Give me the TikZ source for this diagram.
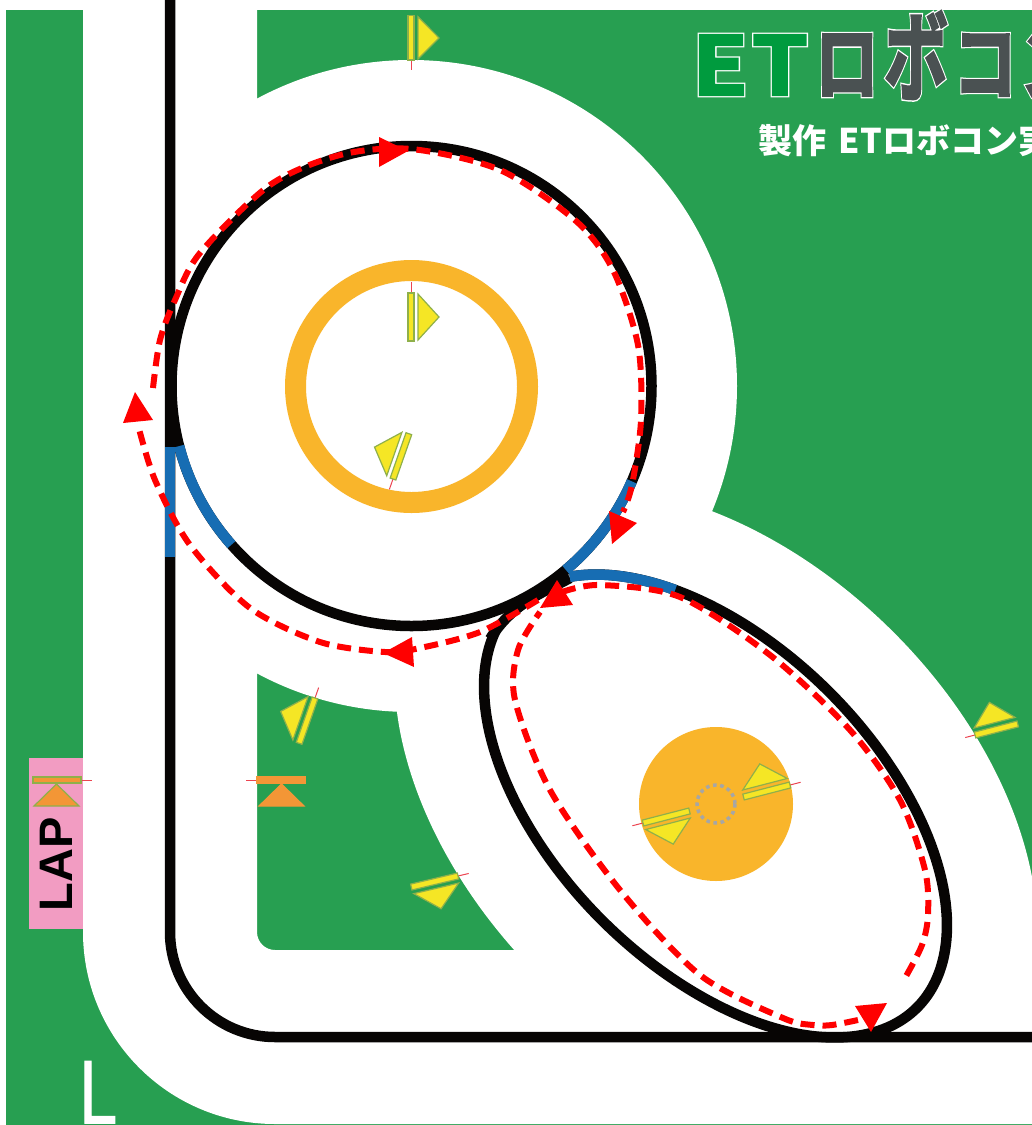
\documentclass[tikz,border=0pt]{standalone}
\usepackage{fontspec}
\usepackage{graphicx}
\usetikzlibrary{positioning}
\setmainfont{Liberation Sans}
\newfontfamily\cjk{Noto Sans CJK JP}
\newfontfamily\cjkfat[FakeBold=3]{Noto Sans CJK JP Bold}
\newfontfamily\cjkrim[FakeBold=6]{Noto Sans CJK JP Bold}
\newfontfamily\sidefont[FakeBold=1.5]{Liberation Sans}
\definecolor{FieldGreen}{HTML}{279F51}
\definecolor{LineBlack}{HTML}{070504}
\definecolor{LineBlue}{HTML}{176DB3}
\definecolor{ZoneOrange}{HTML}{F9B52B}
\definecolor{LapPink}{HTML}{F29CC2}
\definecolor{GateYellow}{HTML}{F5E625}
\definecolor{GateEdge}{HTML}{8FB04A}
\definecolor{GateOrange}{HTML}{F39636}
\definecolor{TickRed}{HTML}{EC4450}
\definecolor{LogoGreen}{HTML}{009B3E}
\definecolor{LogoGray}{HTML}{4A5152}
\tikzset{
  track/.style={line width=10.5pt,color=LineBlack},
  trackb/.style={line width=10.5pt,color=LineBlue},
  routeline/.style={line width=6pt,color=red,dash pattern=on 14pt off 8pt},
  routehead/.style={fill=red},
  gatepart/.style={fill=GateYellow,draw=GateEdge,line width=1.2pt,line join=miter},
  tick/.style={color=TickRed,line width=1pt},
  logochar/.style={inner sep=0pt,outer sep=0pt},
}
% gate: x, y, rotation, side
\newcommand{\gatemark}[4]{
  \begin{scope}[shift={(#1,#2)},rotate=#3,yscale=#4]
    \draw[tick] (0,0) -- (0,-11);
    \draw[gatepart] (-3,0) rectangle (3,48);
    \draw[gatepart] (7,1) -- (7,47) -- (28,24) -- cycle;
  \end{scope}
}
% lap gate: x, direction, edge colour
\newcommand{\lapgate}[3]{
  \begin{scope}[shift={(#1,780)},xscale=#2]
    \draw[tick] (0,0) -- (-11,0);
    \draw[fill=GateOrange,draw=#3,line width=1.2pt] (0,-3) rectangle (48,3);
    \draw[fill=GateOrange,draw=#3,line width=1.2pt] (2,26) -- (47,26) -- (24.5,4) -- cycle;
  \end{scope}
}
% logo letter: name, centre x, centre y, width, height, colour, letter
\newcommand{\logoletter}[7]{
  \node[logochar,text=white] (#1rim) at (#2,#3) {\resizebox{#4pt}{#5pt}{\cjkrim #7}};
  \node[logochar,text=#6] (#1) at (#2,#3) {\resizebox{#4pt}{#5pt}{\cjkfat #7}};
}
\begin{document}
\begin{tikzpicture}[x=1pt,y=1pt,yscale=-1]
  \clip (0,0) rectangle (1032,1125);
  \fill[white] (0,0) rectangle (1032,1125);
  \fill[FieldGreen] (6,10) rectangle (1032,1125);

  % White running area
  \fill[white] (83,0) -- (257,0) -- (257,932) arc (180:90:18) -- (1040,950) -- (1040,1124)
    -- (275,1124) arc (90:180:192) -- cycle;
  \fill[white] (411,386) circle[radius=326];
  \fill[white,rotate around={44.3:(716,804)}] (716,804) ellipse[x radius=379,y radius=247];

  % Start marks and logo
  \fill[LapPink] (29,758) rectangle (83,929);
  \node[font=\bfseries,rotate=90] (laptext) at (56,864) {\fontsize{47}{47}\selectfont LAP};
  \node[text=white,inner sep=0pt,anchor=south west] (sideL) at (79,1123.5) {\resizebox{38pt}{62pt}{\sidefont L}};

  \logoletter{logoE}{720}{65}{56}{60}{LogoGreen}{E}
  \logoletter{logoT}{780}{65}{56}{60}{LogoGreen}{T}
  \logoletter{logoRo}{847}{65}{64}{60}{LogoGray}{ロ}
  \logoletter{logoBo}{916}{55}{64}{82}{LogoGray}{ボ}
  \logoletter{logoKo}{985}{65}{64}{60}{LogoGray}{コ}
  \logoletter{logoN}{1052}{65}{66}{60}{LogoGray}{ン}
  \node[text=white,anchor=west,inner sep=0pt] (credit) at (758,141)
    {\fontsize{34}{34}\selectfont\cjk\bfseries 製作\hspace{5pt} ETロボコン実};

  % Orange zones
  \draw[ZoneOrange,line width=21pt] (411.5,386.5) circle[radius=116];
  \fill[ZoneOrange] (716,804) circle[radius=77];
  \draw[color=black!35,line width=3.5pt,dash pattern=on 3.6pt off 3.6pt] (716,804) circle[radius=19];

  % Black course
  \draw[track] (170,0) -- (170,932) arc (180:90:105) -- (1040,1037);
  \draw[track] (411.5,386) circle[radius=240];
  \draw[track,rotate around={45:(715.5,806)}] (715.5,806) ++(201.5:285 and 161) arc (201.5:530:285 and 161);
  \draw[track] (570,578) .. controls (540,594) and (512,604) .. (490,639);

  % Blue sections
  \draw[trackb] (170,447) -- (170,557);
  \draw[trackb] (411.5,386) ++(165.5:240) arc (165.5:138.6:240);
  \draw[trackb] (411.5,386) ++(50:240) arc (50:23.4:240);
  \draw[trackb,rotate around={45:(715.5,806)}] (715.5,806) ++(201.5:285 and 161) arc (201.5:230.5:285 and 161);

  % Gates
  \gatemark{411}{60}{0}{-0.92}
  \gatemark{411}{293}{0}{1}
  \gatemark{393}{479}{199.3}{1}
  \gatemark{315}{698}{199.3}{-1}
  \gatemark{458}{876}{76.7}{1}
  \gatemark{975}{735}{255.5}{0.92}
  \gatemark{790}{785}{255.5}{-1}
  \gatemark{643}{823}{75.5}{-1}
  \lapgate{81}{-1}{GateEdge}
  \lapgate{257}{1}{GateOrange}

  % Running route
  \draw[routeline] plot[smooth] coordinates {(153,388) (160,340) (175,300) (200,253) (270,185) (340,155) (411,149)
    (500,170) (576,221) (613,270) (638,345) (641,420) (632,485) (623,512)};
  \draw[routeline] plot[smooth] coordinates {(538,600) (480,632) (420,648) (385,652) (320,642) (250,608) (190,545) (155,480) (138,425)};
  \draw[routeline] plot[smooth] coordinates {(562,592) (600,585) (680,597) (770,655) (850,730) (900,800) (925,870)
    (928,915) (922,945) (905,978)};
  \draw[routeline] plot[smooth] coordinates {(858,1020) (832,1025) (813,1025) (783,1018) (700,975) (620,890) (550,790)
    (515,700) (518,650) (540,612)};

  % Route arrowheads
  \fill[routehead] (379,137) -- (408,151) -- (379,167) -- cycle;
  \fill[routehead] (609,511) -- (637,523) -- (612,544) -- cycle;
  \fill[routehead] (383,653) -- (412,637) -- (414,667) -- cycle;
  \fill[routehead] (135,392) -- (123,423) -- (153,420) -- cycle;
  \fill[routehead] (557,580) -- (540,608) -- (573,605) -- cycle;
  \fill[routehead] (871,1032) -- (855,1006) -- (887,1003) -- cycle;
\end{tikzpicture}
\end{document}
